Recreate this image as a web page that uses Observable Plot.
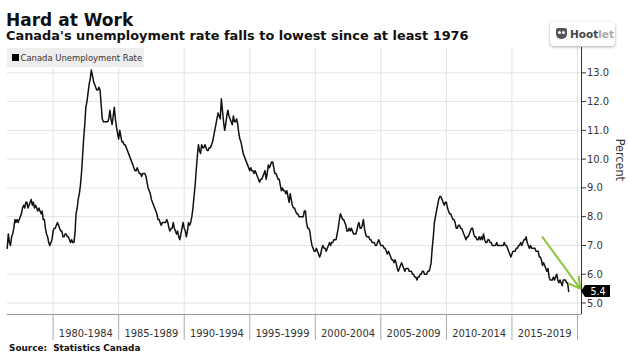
<!DOCTYPE html>
<html>
<head>
<meta charset="utf-8">
<script src="https://cdn.jsdelivr.net/npm/d3@7"></script>
<script src="https://cdn.jsdelivr.net/npm/@observablehq/plot@0.6"></script>
<style>
  html, body { margin: 0; padding: 0; background: #fff; }
  #wrap { position: relative; width: 628px; height: 355px; overflow: hidden; background: #fff; }
  .abs { position: absolute; white-space: nowrap; line-height: 1; }
  #title { left: 6px; top: 9.6px; font: bold 17px "DejaVu Sans", sans-serif; color: #111; }
  #subtitle { left: 6px; top: 28.4px; font: bold 12.9px "DejaVu Sans", sans-serif; color: #111; }
  #chart { position: absolute; left: 0; top: 44px; }
  #legend { left: 7px; top: 48px; width: 137px; height: 19px; background: #eeeeee; }
  #legend .sw { position: absolute; left: 5px; top: 6px; width: 7px; height: 7px; background: #000; }
  #legend .lbl { position: absolute; left: 13.5px; top: 4.5px; font: 9.4px "DejaVu Sans Condensed", "DejaVu Sans", sans-serif; font-stretch: condensed; color: #333; line-height: 1; }
  #source { left: 9px; top: 343.4px; font: bold 8.9px "DejaVu Sans", sans-serif; color: #111; }
  #hoot { left: 550px; top: 22px; width: 65px; height: 24px; background: #fff; border-radius: 4px; box-shadow: 0 1px 3px rgba(0,0,0,0.35); }
  #hoot .owl { position: absolute; left: 6px; top: 6px; width: 11px; height: 11px; background: #555; border-radius: 2px 2px 5px 5px; }
  #hoot .owl i { position: absolute; top: 3px; width: 3px; height: 3px; background: #fff; border-radius: 50%; }
  #hoot .txt { position: absolute; left: 20px; top: 6.5px; font: bold 10.5px "DejaVu Sans", sans-serif; line-height: 1; }
</style>
</head>
<body>
<div id="wrap">
  <div id="title" class="abs">Hard at Work</div>
  <div id="subtitle" class="abs">Canada's unemployment rate falls to lowest since at least 1976</div>
  <div id="chart"></div>
  <div id="legend" class="abs"><div class="sw"></div><div class="lbl">Canada Unemployment Rate</div></div>
  <div id="hoot" class="abs"><div class="owl"><i style="left:2px"></i><i style="left:6px"></i></div><div class="txt"><span style="color:#444">Hoot</span><span style="color:#aaa">let</span></div></div>
  <div id="source" class="abs">Source:&nbsp; Statistics Canada</div>
</div>
<script>
// ---- Data: Canada unemployment rate, monthly, from July 1976 (percent) ----
const seriesStart = [1976, 7]; // year, month of first value
const rates1970s = [
  6.9, 7.4, 7.1, 7.0, 7.3, 7.4,                                   // 1976 Jul-Dec
  7.6, 7.9, 7.8, 7.9, 7.8, 7.9, 8.0, 8.1, 8.3, 8.4, 8.3, 8.5,     // 1977
  8.5, 8.3, 8.4, 8.5, 8.6, 8.4, 8.5, 8.3, 8.4, 8.3, 8.2, 8.3,     // 1978
  8.2, 8.1, 8.2, 7.9, 7.9, 7.6, 7.4, 7.3, 7.1, 7.0, 7.1, 7.2      // 1979
];
const rates1980s = [
  7.5, 7.6, 7.6, 7.7, 7.8, 7.7, 7.6, 7.5, 7.5, 7.3, 7.3, 7.4,     // 1980
  7.4, 7.3, 7.3, 7.2, 7.1, 7.2, 7.1, 7.1, 7.4, 8.1, 8.3, 8.6,     // 1981
  8.8, 9.1, 9.5, 10.1, 10.7, 11.2, 11.8, 12.0, 12.3, 12.6, 12.8, 13.1, // 1982
  12.9, 12.7, 12.6, 12.5, 12.4, 12.4, 12.5, 12.4, 11.9, 11.4, 11.3, 11.3, // 1983
  11.3, 11.3, 11.3, 11.4, 11.7, 11.4, 11.2, 11.5, 11.8, 11.4, 11.1, 10.9, // 1984
  10.7, 11.0, 10.8, 10.6, 10.6, 10.5, 10.5, 10.4, 10.3, 10.2, 10.1, 10.0, // 1985
  9.9, 9.8, 9.7, 9.6, 9.6, 9.7, 9.6, 9.5, 9.5, 9.4, 9.5, 9.5,     // 1986
  9.5, 9.4, 9.2, 9.0, 8.9, 8.8, 8.6, 8.5, 8.4, 8.3, 8.2, 8.1,     // 1987
  7.9, 7.9, 7.8, 7.7, 7.8, 7.8, 7.8, 7.8, 7.9, 7.8, 7.6, 7.5,     // 1988
  7.6, 7.6, 7.8, 7.6, 7.5, 7.4, 7.5, 7.3, 7.2, 7.4, 7.6, 7.8      // 1989
];
const rates1990s = [
  7.6, 7.5, 7.3, 7.5, 7.8, 7.7, 7.8, 8.0, 8.3, 8.7, 9.1, 9.6,     // 1990
  10.1, 10.5, 10.3, 10.2, 10.5, 10.4, 10.4, 10.5, 10.4, 10.3, 10.3, 10.4, // 1991
  10.4, 10.5, 10.6, 10.8, 11.0, 11.2, 11.4, 11.6, 11.5, 11.4, 12.1, 11.7, // 1992
  11.3, 11.0, 11.2, 11.5, 11.7, 11.5, 11.4, 11.3, 11.2, 11.5, 11.3, 11.3, // 1993
  11.4, 11.2, 10.9, 10.7, 10.6, 10.4, 10.2, 10.1, 10.0, 9.9, 9.8, 9.7,   // 1994
  9.6, 9.7, 9.6, 9.6, 9.5, 9.6, 9.5, 9.4, 9.3, 9.2, 9.3, 9.3,     // 1995
  9.4, 9.5, 9.6, 9.3, 9.5, 9.8, 9.7, 9.8, 9.9, 9.9, 9.7, 9.5,     // 1996
  9.5, 9.4, 9.3, 9.3, 9.1, 8.9, 9.0, 8.9, 8.9, 8.8, 8.9, 8.7,     // 1997
  8.5, 8.8, 8.6, 8.4, 8.3, 8.3, 8.2, 8.1, 8.1, 8.0, 8.0, 8.0,     // 1998
  8.0, 8.0, 8.2, 8.2, 7.8, 7.6, 7.6, 7.5, 7.2, 7.0, 6.9, 6.8      // 1999
];
const rates2000s = [
  6.8, 6.9, 6.8, 6.7, 6.6, 6.7, 6.9, 7.0, 6.9, 6.9, 6.8, 6.9,     // 2000
  7.0, 7.1, 7.0, 7.1, 7.1, 7.2, 7.2, 7.2, 7.4, 7.6, 7.9, 8.1,     // 2001
  8.0, 7.9, 7.9, 7.8, 7.7, 7.5, 7.5, 7.6, 7.5, 7.6, 7.5, 7.4,     // 2002
  7.4, 7.4, 7.5, 7.7, 7.8, 7.6, 7.6, 7.7, 7.9, 7.6, 7.4, 7.3,     // 2003
  7.3, 7.3, 7.2, 7.2, 7.1, 7.1, 7.1, 7.0, 7.0, 7.1, 7.2, 7.1,     // 2004
  7.0, 7.0, 7.0, 6.9, 6.9, 6.8, 6.7, 6.8, 6.7, 6.6, 6.5, 6.5,     // 2005
  6.4, 6.5, 6.4, 6.2, 6.1, 6.2, 6.3, 6.4, 6.3, 6.2, 6.1, 6.2,     // 2006
  6.2, 6.2, 6.1, 6.1, 6.1, 6.0, 6.0, 5.9, 5.9, 5.8, 5.9, 5.9,     // 2007
  6.0, 6.0, 6.1, 6.1, 6.0, 6.0, 6.0, 6.1, 6.1, 6.2, 6.4, 6.9,     // 2008
  7.3, 7.8, 8.0, 8.2, 8.4, 8.6, 8.7, 8.7, 8.6, 8.5, 8.4, 8.5      // 2009
];
const rates2010s = [
  8.5, 8.3, 8.2, 8.1, 8.1, 8.0, 7.9, 7.9, 7.8, 7.6, 7.6, 7.7,     // 2010
  7.7, 7.6, 7.6, 7.5, 7.4, 7.3, 7.2, 7.3, 7.3, 7.4, 7.5, 7.6,     // 2011
  7.6, 7.4, 7.3, 7.3, 7.2, 7.2, 7.3, 7.2, 7.3, 7.2, 7.4, 7.2,     // 2012
  7.1, 7.1, 7.2, 7.2, 7.1, 7.1, 7.0, 7.0, 7.0, 7.0, 7.1, 7.0,     // 2013
  7.0, 7.0, 7.0, 7.0, 7.0, 7.1, 7.0, 7.0, 6.9, 6.8, 6.7, 6.6,     // 2014
  6.7, 6.8, 6.8, 6.8, 6.9, 6.9, 7.0, 7.0, 7.1, 7.0, 7.1, 7.2,     // 2015
  7.2, 7.3, 7.1, 7.0, 6.9, 7.0, 6.9, 6.9, 6.9, 6.9, 6.8, 6.8,     // 2016
  6.8, 6.6, 6.6, 6.5, 6.3, 6.4, 6.3, 6.2, 6.1, 6.2, 5.9, 5.8,     // 2017
  5.8, 5.8, 5.9, 5.8, 5.9, 6.0, 5.8, 5.7, 5.8, 5.7, 5.6, 5.8,     // 2018
  5.8, 5.8, 5.7, 5.7, 5.4                                          // 2019 Jan-May
];

// axis ticks and labels
const yTicks = [5, 6, 7, 8, 9, 10, 11, 12, 13];
const periodStarts = [1980, 1985, 1990, 1995, 2000, 2005, 2010, 2015, 2020];
const periodLabels = ["1980-1984", "1985-1989", "1990-1994", "1995-1999", "2000-2004", "2005-2009", "2010-2014", "2015-2019"];
const yDomain = [4.6, 13.88];
const xDomain = [new Date(Date.UTC(1976, 6, 1)), new Date(Date.UTC(2020, 3, 22))];

// green annotation arrow (start and end)
const arrowFrom = [new Date(Date.UTC(2017, 4, 1)), 7.29];
const arrowTo = [new Date(Date.UTC(2020, 2, 15)), 5.5];

// ---- Build table ----
const allRates = [...rates1970s, ...rates1980s, ...rates1990s, ...rates2000s, ...rates2010s];
const data = allRates.map((v, i) => ({
  date: new Date(Date.UTC(seriesStart[0], seriesStart[1] - 1 + i, 1)),
  rate: v
}));
const sepDates = periodStarts.map(y => new Date(Date.UTC(y, 0, 1)));
const midDates = periodLabels.map((l, i) => new Date(Date.UTC(periodStarts[i] + 2, 6, 1)));
const labelByTime = new Map(midDates.map((d, i) => [+d, periodLabels[i]]));
const arrows = [{x1: arrowFrom[0], y1: arrowFrom[1], x2: arrowTo[0], y2: arrowTo[1]}];

const COND = '"DejaVu Sans Condensed", "DejaVu Sans", sans-serif';

function lastValueBadge(...args) {
  const scales = args.find(a => a && typeof a.y === "function");
  const dims = args.find(a => a && typeof a === "object" && "marginRight" in a && "width" in a);
  const last = data[data.length - 1];
  const x = dims.width - dims.marginRight;
  const y = scales.y(last.rate);
  const g = d3.create("svg:g");
  g.append("path")
    .attr("d", `M${x},${y} L${x + 4},${y - 6} H${x + 29} V${y + 6} H${x + 4} Z`)
    .attr("fill", "#000");
  g.append("text")
    .attr("x", x + 17).attr("y", y).attr("dy", "0.36em")
    .attr("text-anchor", "middle").attr("fill", "#fff")
    .attr("font-family", COND).attr("font-size", 10.5)
    .text(last.rate.toFixed(1));
  return g.node();
}

const chart = Plot.plot({
  width: 628,
  height: 298,
  marginLeft: 6.7,
  marginRight: 47,
  marginTop: 3,
  marginBottom: 28,
  style: { fontFamily: COND, fontSize: "11px", color: "#333", background: "transparent", fontStretch: "condensed" },
  x: { type: "utc", domain: xDomain },
  y: { domain: yDomain },
  marks: [
    Plot.gridY(yTicks, { stroke: "#e3e3e3", strokeOpacity: 1 }),
    Plot.gridX(sepDates, { stroke: "#e3e3e3", strokeOpacity: 1 }),
    Plot.axisX(sepDates, { tickSize: 26, tickFormat: () => "", stroke: "#aaa" }),
    Plot.axisX(midDates, { tickSize: 0, tickPadding: 15, tickFormat: d => labelByTime.get(+d), fontSize: 11, fill: "#333" }),
    Plot.ruleY([yDomain[0]], { stroke: "#999" }),
    Plot.ruleX([xDomain[1]], { stroke: "#333" }),
    Plot.axisY(yTicks, { anchor: "right", tickSize: 4, tickPadding: 1.5, tickFormat: ".1f", fontSize: 11, fill: "#333", stroke: "#333" }),
    Plot.line(data, { x: "date", y: "rate", stroke: "#111", strokeWidth: 1.5 }),
    Plot.arrow(arrows, { x1: "x1", y1: "y1", x2: "x2", y2: "y2", stroke: "#8dc63f", strokeWidth: 2, headLength: 9 }),
    lastValueBadge,
    Plot.text(["Percent"], { frameAnchor: "right", rotate: 90, dx: 38, fontSize: 12.5, fill: "#333" })
  ]
});
document.getElementById("chart").appendChild(chart);
</script>
</body>
</html>
